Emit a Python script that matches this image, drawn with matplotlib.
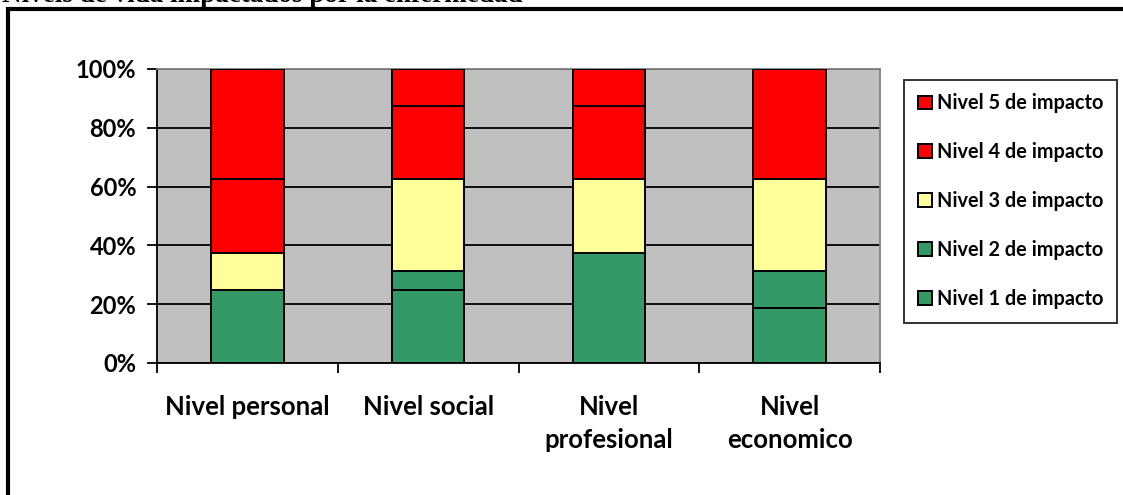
import matplotlib
matplotlib.use("Agg")
import matplotlib.pyplot as plt
from matplotlib.lines import Line2D
from matplotlib.ticker import FixedLocator, FuncFormatter

# Data: share of respondents (%) at each impact level, per life area
categories = ["Nivel personal", "Nivel social", "Nivel\nprofesional", "Nivel\neconomico"]
nivel_1 = [25.0, 25.0, 37.5, 18.75]
nivel_2 = [0.0, 6.25, 0.0, 12.5]
nivel_3 = [12.5, 31.25, 25.0, 31.25]
nivel_4 = [25.0, 25.0, 25.0, 37.5]
nivel_5 = [37.5, 12.5, 12.5, 0.0]
series_labels = ["Nivel 1 de impacto", "Nivel 2 de impacto", "Nivel 3 de impacto",
                 "Nivel 4 de impacto", "Nivel 5 de impacto"]
series_colors = ["#339966", "#339966", "#FFFF99", "#FF0000", "#FF0000"]
y_ticks = [0, 20, 40, 60, 80, 100]
title = "Niveis de vida impactados por la enfermedad"

W, H = 1123, 495
fig = plt.figure(figsize=(W / 100, H / 100), dpi=100)
fig.patch.set_facecolor("white")

SANS = ["Lato", "DejaVu Sans"]

# plot area in pixel units
left, right, top, bottom = 157, 880, 69, 363
ax = fig.add_axes([left / W, 1 - bottom / H, (right - left) / W, (bottom - top) / H])
ax.set_facecolor("#C0C0C0")

x = list(range(len(categories)))
series = [nivel_1, nivel_2, nivel_3, nivel_4, nivel_5]
base = [0.0] * len(categories)
handles = []
for vals, lab, col in zip(series, series_labels, series_colors):
    bars = ax.bar(x, vals, width=0.4, bottom=base, color=col, edgecolor="black",
                  linewidth=1.4, label=lab, zorder=3)
    handles.append(bars)
    base = [b + v for b, v in zip(base, vals)]

ax.set_xlim(-0.5, len(categories) - 0.5)
ax.set_ylim(0, 100)
ax.yaxis.set_major_locator(FixedLocator(y_ticks))
ax.yaxis.set_major_formatter(FuncFormatter(lambda v, p: f"{int(v)}%"))
ax.grid(axis="y", color="black", linewidth=1.3, zorder=1)
ax.set_axisbelow(True)

# category boundaries as major ticks, labels on minor ticks at centres
ax.xaxis.set_major_locator(FixedLocator([i - 0.5 for i in range(len(categories) + 1)]))
ax.xaxis.set_major_formatter(FuncFormatter(lambda v, p: ""))
ax.xaxis.set_minor_locator(FixedLocator(x))
ax.set_xticklabels(categories, minor=True)
ax.tick_params(axis="x", which="major", direction="out", length=7, width=1.3, color="black")
ax.tick_params(axis="x", which="minor", length=0, pad=23)
ax.tick_params(axis="y", direction="out", length=7, width=1.3, color="black", pad=8)

for lab in ax.get_xticklabels(minor=True):
    lab.set_fontfamily(SANS)
    lab.set_fontweight("bold")
    lab.set_fontsize(18.5)
    lab.set_linespacing(1.45)
for lab in ax.get_yticklabels():
    lab.set_fontfamily(SANS)
    lab.set_fontweight("bold")
    lab.set_fontsize(17)

for side in ("left", "bottom"):
    ax.spines[side].set_color("black")
    ax.spines[side].set_linewidth(1.3)
for side in ("top", "right"):
    ax.spines[side].set_color("#808080")
    ax.spines[side].set_linewidth(1.3)

leg = fig.legend(handles=handles[::-1], labels=series_labels[::-1],
                 loc="center left", bbox_to_anchor=(904 / W, 1 - 201 / H),
                 prop={"family": SANS, "weight": "bold", "size": 14.3},
                 frameon=True, fancybox=False, edgecolor="black",
                 handlelength=0.7, handleheight=0.7, handletextpad=0.25,
                 labelspacing=1.45, borderpad=0.7, borderaxespad=0)
leg.get_frame().set_linewidth(1.4)

# outer frame around the chart, running off the right and bottom edges
fig.add_artist(Line2D([6 / W, 1.0], [1 - 9 / H, 1 - 9 / H], color="black",
                      linewidth=3, solid_capstyle="butt"))
fig.add_artist(Line2D([8 / W, 8 / W], [1 - 7 / H, 0.0], color="black",
                      linewidth=3, solid_capstyle="butt"))

fig.text(2 / W, 1 - 2 / H, title, family="Liberation Serif", weight="bold",
         fontsize=19.5, ha="left", va="baseline")

fig.savefig("out.png", dpi=100)
